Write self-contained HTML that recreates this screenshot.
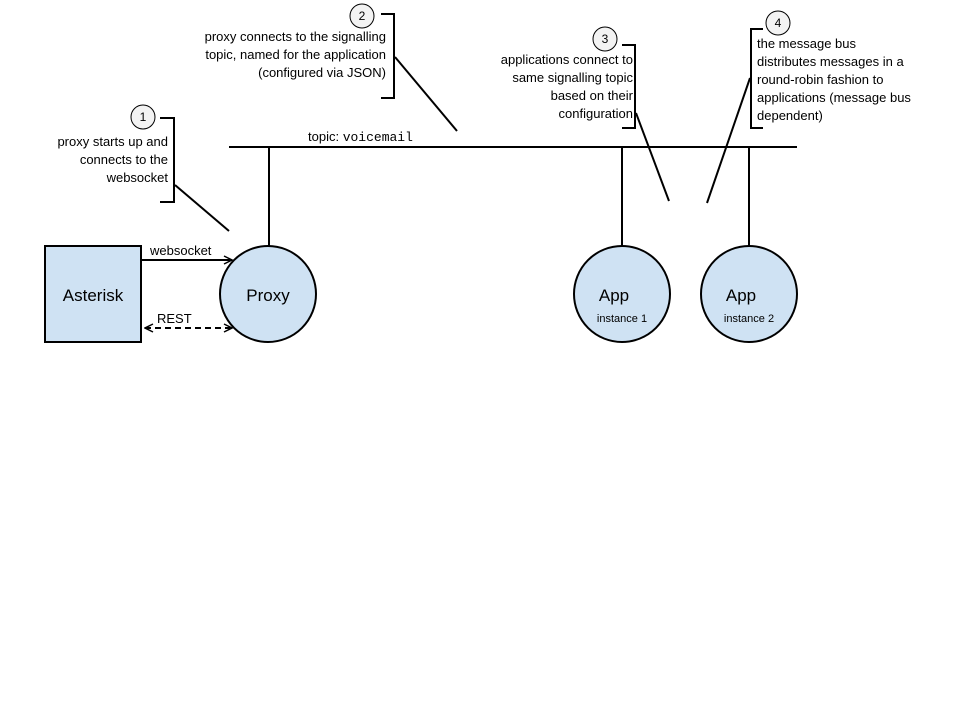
<!DOCTYPE html>
<html><head><meta charset="utf-8"><style>
html,body{margin:0;padding:0;background:#fff;width:960px;height:720px;overflow:hidden}
svg{display:block}
text{font-family:"Liberation Sans",Arial,sans-serif;font-size:13px;fill:#000}
</style></head><body>
<svg width="960" height="720" viewBox="0 0 960 720" xmlns="http://www.w3.org/2000/svg">
<defs>
<marker id="ah" markerWidth="10" markerHeight="10" refX="9" refY="5" orient="auto" markerUnits="userSpaceOnUse">
<path d="M1,1 L9,5 L1,9" fill="none" stroke="#000" stroke-width="1.5"/></marker>
<marker id="ahs" markerWidth="10" markerHeight="10" refX="1" refY="5" orient="auto" markerUnits="userSpaceOnUse">
<path d="M9,1 L1,5 L9,9" fill="none" stroke="#000" stroke-width="1.5"/></marker>
</defs>
<g stroke="#000" stroke-width="2" fill="none">
<line x1="229" y1="147" x2="797" y2="147"/>
<line x1="269" y1="147" x2="269" y2="246"/>
<line x1="622" y1="147" x2="622" y2="246"/>
<line x1="749" y1="147" x2="749" y2="246"/>
<line x1="141" y1="260" x2="232" y2="260" marker-end="url(#ah)"/>
<line x1="145" y1="328" x2="232" y2="328" stroke-dasharray="6,4" marker-end="url(#ah)" marker-start="url(#ahs)"/>
<!-- brackets -->
<path d="M160,118 H174 V202 H160"/>
<path d="M381,14 H394 V98 H381"/>
<path d="M622,45 H635 V128 H622"/>
<path d="M763,29 H751 V128 H763"/>
<line x1="175" y1="185" x2="229" y2="231"/>
<line x1="395" y1="57" x2="457" y2="131"/>
<line x1="636" y1="113" x2="669" y2="201"/>
<line x1="750" y1="78" x2="707" y2="203"/>
</g>
<rect x="45" y="246" width="96" height="96" fill="#cfe2f3" stroke="#000" stroke-width="2"/>
<circle cx="268" cy="294" r="48" fill="#cfe2f3" stroke="#000" stroke-width="2"/>
<circle cx="622" cy="294" r="48" fill="#cfe2f3" stroke="#000" stroke-width="2"/>
<circle cx="749" cy="294" r="48" fill="#cfe2f3" stroke="#000" stroke-width="2"/>
<g fill="#f3f3f3" stroke="#000" stroke-width="1">
<circle cx="143" cy="117" r="12"/><circle cx="362" cy="16" r="12"/>
<circle cx="605" cy="39" r="12"/><circle cx="778" cy="23" r="12"/>
</g>
<g text-anchor="middle" font-size="12">
<text x="143" y="121" style="font-size:12px">1</text><text x="362" y="20" style="font-size:12px">2</text>
<text x="605" y="43" style="font-size:12px">3</text><text x="778" y="27" style="font-size:12px">4</text>
</g>
<text x="93" y="301" text-anchor="middle" style="font-size:17px">Asterisk</text>
<text x="268" y="301" text-anchor="middle" style="font-size:17px">Proxy</text>
<text x="614" y="301" text-anchor="middle" style="font-size:17px">App</text>
<text x="622" y="322" text-anchor="middle" style="font-size:11px">instance 1</text>
<text x="741" y="301" text-anchor="middle" style="font-size:17px">App</text>
<text x="749" y="322" text-anchor="middle" style="font-size:11px">instance 2</text>
<text x="150" y="255">websocket</text>
<text x="157" y="323">REST</text>
<text x="308" y="141">topic: <tspan style="font-family:'Liberation Mono',monospace">voicemail</tspan></text>
<g text-anchor="end">
<text x="168" y="146">proxy starts up and</text>
<text x="168" y="164">connects to the</text>
<text x="168" y="182">websocket</text>
<text x="386" y="41">proxy connects to the signalling</text>
<text x="386" y="59">topic, named for the application</text>
<text x="386" y="77">(configured via JSON)</text>
<text x="633" y="64">applications connect to</text>
<text x="633" y="82">same signalling topic</text>
<text x="633" y="100">based on their</text>
<text x="633" y="118">configuration</text>
</g>
<text x="757" y="48">the message bus</text>
<text x="757" y="66">distributes messages in a</text>
<text x="757" y="84">round-robin fashion to</text>
<text x="757" y="102">applications (message bus</text>
<text x="757" y="120">dependent)</text>
</svg>
</body></html>
